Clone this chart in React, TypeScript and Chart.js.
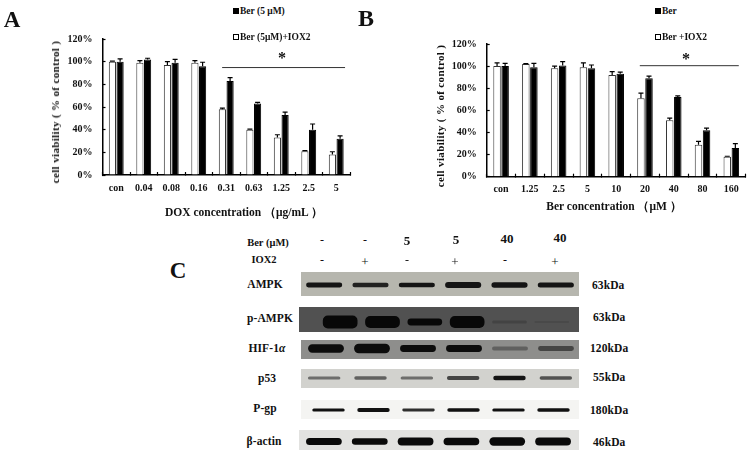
import React, { useEffect, useRef } from "react";
import { Chart, registerables } from "chart.js";

Chart.register(...registerables);

const SERIF = '"Liberation Serif", serif';

// ---------- Panel A data ----------
const doseA = ["con", "0.04", "0.08", "0.16", "0.31", "0.63", "1.25", "2.5", "5"];
const whiteA = [100, 99, 97, 99, 58, 40, 33, 21, 18];
const blackA = [100, 102, 99, 96, 83, 63, 53, 40, 32];
const whiteErrA = [0.5, 2, 3, 2, 1, 0.5, 2.5, 0.5, 2.5];
const blackErrA = [2.5, 1, 3, 3.5, 3, 1, 2.5, 5, 2.5];

// ---------- Panel B data ----------
const doseB = ["con", "1.25", "2.5", "5", "10", "20", "40", "80", "160"];
const whiteB = [100, 102, 98, 99, 92, 71, 51, 29, 18];
const blackB = [100, 99, 100.5, 98, 93, 89, 72, 42, 26];
const whiteErrB = [3, 0.3, 2, 4, 3, 4.5, 2, 3, 0.5];
const blackErrB = [2.5, 3.5, 3.5, 3, 1.5, 2, 1, 2, 4];

// ---------- Panel C data: band signal per lane ----------
const lanes = ["1", "2", "3", "4", "5", "6"];
const ampk = [2.4, 2.2, 2.3, 3, 2.8, 2.5];
const pAmpk = [6.5, 6, 3.4, 6, 1.5, 1.1];
const hif = [4.2, 4.8, 3.4, 3.4, 1.9, 2.4];
const p53 = [1.6, 1.7, 1.6, 1.9, 2.2, 1.8];
const pgp = [1.6, 1.9, 1.4, 1.7, 1.5, 1.7];
const actin = [3.6, 3.2, 4, 3.8, 4.2, 4];

const CHARTS = [
  {
    labels: doseA, white: whiteA, black: blackA, whiteErr: whiteErrA, blackErr: blackErrA,
    box: { left: 0, top: 20, width: 375, height: 200 },
    area: { left: 102.5, right: 350, top: 36.7, bottom: 175 },
    sig: { from: 3.85, to: 8.32, value: 94.8 },
    tickPad: 13, xPad: 10,
    whiteName: "Ber (5μM)+IOX2", blackName: "Ber (5 μM)",
  },
  {
    labels: doseB, white: whiteB, black: blackB, whiteErr: whiteErrB, blackErr: blackErrB,
    box: { left: 376, top: 25, width: 376, height: 195 },
    area: { left: 486.7, right: 745.7, top: 44, bottom: 176.7 },
    sig: { from: 4.82, to: 8.26, value: 100.4 },
    tickPad: 13, xPad: 10,
    whiteName: "Ber +IOX2", blackName: "Ber",
  },
];

const BLOTS = [
  { name: "AMPK", signal: ampk, bg: "#b6b6ae", band: "#141414", solid: 2.3, rect: [301, 272, 278, 24], bandY: 285, pad: [0, 0], bar: 0.78 },
  { name: "p-AMPK", signal: pAmpk, bg: "#515151", band: "#080808", solid: 3.4, rect: [299, 307, 280, 25], bandY: 322, pad: [20, 6], bar: 0.82 },
  { name: "HIF-1α", signal: hif, bg: "#8e8e8c", band: "#0c0c0c", solid: 3.2, rect: [301, 340, 278, 19], bandY: 348.5, pad: [2, 0], bar: 0.78 },
  { name: "p53", signal: p53, bg: "#d2d2ce", band: "#141414", solid: 2.2, rect: [301, 369, 278, 19], bandY: 378, pad: [0, 0], bar: 0.7 },
  { name: "P-gp", signal: pgp, bg: "#f4f4f2", band: "#111111", solid: 1.5, rect: [301, 400, 278, 19], bandY: 410, pad: [5, 3], bar: 0.72 },
  { name: "β-actin", signal: actin, bg: "#e2e2e0", band: "#0a0a0a", solid: 3, rect: [299, 430, 280, 20], bandY: 441.5, pad: [2, 3], bar: 0.78 },
];

type L = { t: React.ReactNode; x: number; y: number; s: number; a?: "l" | "c" | "r"; sp?: number; w?: string };

const TEXTS: L[] = [
  { t: "A", x: 12, y: 19, s: 23, a: "c" },
  { t: "B", x: 366, y: 17.5, s: 24, a: "c" },
  { t: "C", x: 178, y: 269.5, s: 23, a: "c" },
  { t: "DOX concentration （μg/mL ）", x: 244, y: 213, s: 11.5, a: "c" },
  { t: "Ber concentration （μM ）", x: 614, y: 207, s: 11.5, a: "c" },
  { t: "*", x: 282, y: 58, s: 16, a: "c" },
  { t: "*", x: 686, y: 59, s: 16, a: "c" },
  { t: "Ber (μM)", x: 268, y: 243, s: 10.5, a: "c" },
  { t: "IOX2", x: 264, y: 260, s: 10.5, a: "c" },
  { t: "-", x: 322, y: 240, s: 12, a: "c", w: "normal" },
  { t: "-", x: 365, y: 240, s: 12, a: "c", w: "normal" },
  { t: "5", x: 407, y: 240, s: 13, a: "c" },
  { t: "5", x: 456, y: 239, s: 13, a: "c" },
  { t: "40", x: 507, y: 238, s: 13, a: "c" },
  { t: "40", x: 560, y: 237, s: 13, a: "c" },
  { t: "-", x: 322, y: 260, s: 12, a: "c", w: "normal" },
  { t: "+", x: 365, y: 261, s: 13, a: "c", w: "normal" },
  { t: "-", x: 407, y: 260, s: 12, a: "c", w: "normal" },
  { t: "+", x: 455, y: 261, s: 13, a: "c", w: "normal" },
  { t: "-", x: 505, y: 260, s: 12, a: "c", w: "normal" },
  { t: "+", x: 555, y: 261, s: 13, a: "c", w: "normal" },
  { t: "AMPK", x: 265, y: 285, s: 11.5, a: "c", sp: 0.1 },
  { t: "p-AMPK", x: 270, y: 319, s: 11.5, a: "c", sp: 0.1 },
  { t: <>HIF-1<i>α</i></>, x: 267, y: 349, s: 11.5, a: "c", sp: 0.1 },
  { t: "p53", x: 267, y: 379, s: 11.5, a: "c", sp: 0.1 },
  { t: "P-gp", x: 265, y: 409, s: 11.5, a: "c", sp: 0.1 },
  { t: "β-actin", x: 264, y: 442, s: 11.5, a: "c", sp: 0.1 },
  { t: "63kDa", x: 592, y: 286, s: 11.5, sp: 0.1 },
  { t: "63kDa", x: 593, y: 318, s: 11.5, sp: 0.1 },
  { t: "120kDa", x: 590, y: 349, s: 11.5, sp: 0.1 },
  { t: "55kDa", x: 593, y: 378, s: 11.5, sp: 0.1 },
  { t: "180kDa", x: 590, y: 411, s: 11.5, sp: 0.1 },
  { t: "46kDa", x: 593, y: 443, s: 11.5, sp: 0.1 },
];

const errorBars = {
  id: "errorBars",
  afterDatasetsDraw(chart: any) {
    const { ctx, scales } = chart;
    chart.data.datasets.forEach((ds: any, di: number) => {
      const meta = chart.getDatasetMeta(di);
      ctx.save();
      ctx.strokeStyle = "#000";
      ctx.lineWidth = 1.2;
      meta.data.forEach((bar: any, i: number) => {
        const top = scales.y.getPixelForValue(ds.data[i] + ds.err[i]);
        const base = scales.y.getPixelForValue(ds.data[i]);
        ctx.beginPath();
        ctx.moveTo(bar.x, base);
        ctx.lineTo(bar.x, top);
        ctx.moveTo(bar.x - 2.5, top);
        ctx.lineTo(bar.x + 2.5, top);
        ctx.stroke();
      });
      ctx.restore();
    });
  },
};

const sigLine = {
  id: "sigLine",
  afterDraw(chart: any, _a: any, opts: any) {
    const { ctx, scales } = chart;
    const y = scales.y.getPixelForValue(opts.value);
    ctx.save();
    ctx.strokeStyle = "#333";
    ctx.lineWidth = 1;
    ctx.beginPath();
    ctx.moveTo(scales.x.getPixelForValue(opts.from), y);
    ctx.lineTo(scales.x.getPixelForValue(opts.to), y);
    ctx.stroke();
    ctx.restore();
  },
};

const softBands = {
  id: "softBands",
  beforeDatasetsDraw(chart: any) {
    chart.ctx.save();
    chart.ctx.filter = "blur(0.7px)";
  },
  afterDatasetsDraw(chart: any) {
    chart.ctx.restore();
  },
};

function ViabilityChart({ c, yTitle }: { c: (typeof CHARTS)[number]; yTitle: string }) {
  const ref = useRef<HTMLCanvasElement>(null);
  useEffect(() => {
    const { box, area } = c;
    const tickFont = { family: SERIF, size: 10, weight: "bold" as const };
    const chart = new Chart(ref.current!, {
      type: "bar",
      data: {
        labels: c.labels,
        datasets: [
          { label: c.whiteName, data: c.white, err: c.whiteErr, backgroundColor: "#fff", borderColor: "#333", borderWidth: 1 } as any,
          { label: c.blackName, data: c.black, err: c.blackErr, backgroundColor: "#000", borderColor: "#000", borderWidth: 1 } as any,
        ],
      },
      options: {
        animation: false,
        responsive: false,
        devicePixelRatio: 1,
        layout: {
          padding: {
            top: area.top - box.top,
            right: box.left + box.width - area.right,
            left: 0,
            bottom: 0,
          },
        },
        datasets: { bar: { categoryPercentage: 0.56, barPercentage: 0.93 } },
        plugins: {
          legend: { display: false },
          tooltip: { enabled: false },
          sigLine: c.sig,
        } as any,
        scales: {
          x: {
            afterFit(s: any) { s.height = box.top + box.height - area.bottom; },
            grid: { offset: true, drawOnChartArea: false, tickLength: -3, tickColor: "#000", tickWidth: 1.2 },
            border: { color: "#000", width: 1.5 },
            ticks: { font: tickFont, color: "#111", maxRotation: 0, autoSkip: false, padding: c.xPad },
          },
          y: {
            min: 0,
            max: 120,
            afterFit(s: any) { s.width = area.left - box.left; },
            grid: { drawOnChartArea: false, tickLength: -3, tickColor: "#000", tickWidth: 1.2 },
            border: { color: "#000", width: 1.5 },
            ticks: { stepSize: 20, font: tickFont, color: "#111", padding: c.tickPad, callback: (v: any) => `${v}%` },
          },
        },
      },
      plugins: [errorBars, sigLine],
    });
    return () => chart.destroy();
  }, []);
  const midY = yTitle === "A" ? 112 : 116;
  const titleX = yTitle === "A" ? 55 : 440;
  const legendX = yTitle === "A" ? 233 : 655;
  const { box } = c;
  return (
    <>
      <canvas ref={ref} width={box.width} height={box.height}
        style={{ position: "absolute", left: box.left, top: box.top, width: box.width, height: box.height }} />
      <div style={{
        position: "absolute", left: titleX, top: midY, transform: "translate(-50%,-50%) rotate(-90deg)",
        font: `bold 11px ${SERIF}`, whiteSpace: "nowrap", color: "#111", letterSpacing: 0.35,
      }}>cell viability ( % of control )</div>
      {[{ n: c.blackName, y: 11, fill: "#000" }, { n: c.whiteName, y: 36.5, fill: "#fff" }].map((e) => (
        <div key={e.n} style={{
          position: "absolute", left: legendX, top: e.y, transform: "translateY(-50%)",
          font: `bold 9.5px ${SERIF}`, whiteSpace: "nowrap", color: "#111", display: "flex", alignItems: "center",
        }}>
          <span style={{ display: "inline-block", width: 4, height: 4, background: e.fill, border: "1px solid #000", marginRight: 1 }} />
          {e.n}
        </div>
      ))}
    </>
  );
}

function BlotRow({ b }: { b: (typeof BLOTS)[number] }) {
  const ref = useRef<HTMLCanvasElement>(null);
  const [x, y, w, h] = b.rect;
  useEffect(() => {
    const chart = new Chart(ref.current!, {
      type: "bar",
      data: {
        labels: lanes,
        datasets: [{
          label: b.name,
          data: b.signal.map((v) => [-v, v]) as any,
          backgroundColor: b.signal.map((v) => {
            const a = Math.round(Math.min(1, Math.pow(v / b.solid, 2)) * 255).toString(16).padStart(2, "0");
            return b.band + a;
          }),
          borderWidth: 0,
          borderRadius: 5,
          borderSkipped: false,
          barPercentage: b.bar,
          categoryPercentage: 1,
        }],
      },
      options: {
        animation: false,
        responsive: false,
        devicePixelRatio: 1,
        layout: { padding: { left: b.pad[0], right: b.pad[1], top: 0, bottom: 0 } },
        plugins: { legend: { display: false }, tooltip: { enabled: false } },
        scales: {
          x: { display: false },
          y: { display: false, min: -(y + h - b.bandY), max: b.bandY - y },
        },
      },
      plugins: [softBands],
    });
    return () => chart.destroy();
  }, []);
  return (
    <canvas ref={ref} width={w} height={h}
      style={{ position: "absolute", left: x, top: y, width: w, height: h, background: b.bg }} />
  );
}

export default function App() {
  return (
    <div style={{ position: "absolute", left: 0, top: 0, width: 752, height: 458, background: "#fff", overflow: "hidden" }}>
      <ViabilityChart c={CHARTS[0]} yTitle="A" />
      <ViabilityChart c={CHARTS[1]} yTitle="B" />
      {BLOTS.map((b) => <BlotRow key={b.name} b={b} />)}
      {TEXTS.map((l, i) => (
        <div key={i} style={{
          position: "absolute", left: l.x, top: l.y,
          transform: `translate(${l.a === "c" ? "-50%" : l.a === "r" ? "-100%" : "0"},-50%)`,
          font: `${l.w ?? "bold"} ${l.s}px ${SERIF}`, whiteSpace: "nowrap", color: "#111",
          letterSpacing: l.sp ?? 0, lineHeight: 1,
        }}>{l.t}</div>
      ))}
    </div>
  );
}
